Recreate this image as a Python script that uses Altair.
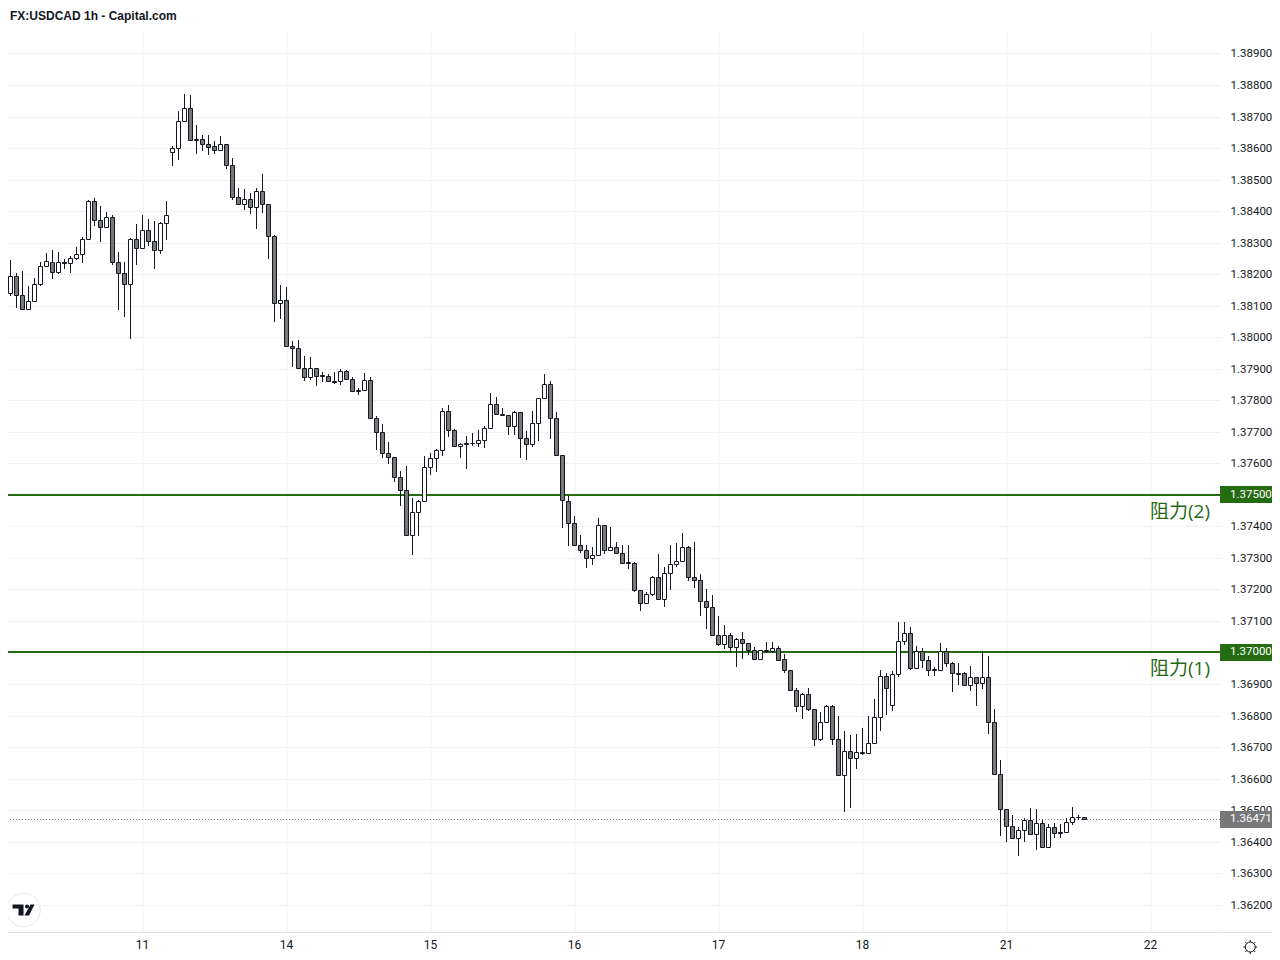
import altair as alt
import pandas as pd

TITLE = "FX:USDCAD 1h - Capital.com"
hour_index = list(range(-24, 158))

opens = [
    1.38171,1.38171,1.38140,1.38193,1.38133,1.38089,1.38114,1.38168,1.38225,1.38240,1.38206,1.38238,1.38235,1.38251,1.38263,1.38311,1.38432,1.38371,1.38349,1.38381,1.38238,1.38203,1.38168,1.38311,1.38282,1.38340,1.38305,1.38276,1.38362,
    1.38589,1.38600,1.38687,1.38728,1.38624,1.38630,1.38614,1.38605,1.38595,1.38614,1.38547,1.38446,1.38424,1.38440,1.38414,1.38465,1.38421,1.38322,1.38109,1.38119,1.37973,1.37967,1.37903,1.37875,1.37903,1.37879,1.37878,1.37862,
    1.37862,1.37892,1.37867,1.37832,1.37832,1.37864,1.37743,1.37699,1.37632,1.37620,1.37556,1.37515,1.37372,1.37445,1.37480,1.37588,1.37616,1.37642,1.37766,1.37705,1.37654,1.37664,1.37663,1.37664,1.37673,1.37712,1.37788,1.37756,1.37753,1.37718,1.37762,1.37680,1.37661,1.37727,1.37807,1.37851,1.37743,1.37626,
    1.37481,1.37412,1.37342,1.37326,1.37300,1.37310,1.37405,1.37326,1.37335,1.37316,1.37286,1.37285,1.37199,1.37158,1.37186,1.37240,1.37170,1.37253,1.37281,1.37291,1.37335,1.37240,1.37231,1.37164,1.37145,1.37056,1.37028,1.37056,1.37018,1.37043,1.37031,1.37008,1.36980,1.37008,1.37005,1.37015,
    1.36978,1.36943,1.36880,1.36829,1.36867,1.36820,1.36727,1.36778,1.36829,1.36724,1.36610,1.36686,1.36664,1.36683,1.36680,1.36712,1.36794,1.36924,1.36835,1.36931,1.37035,1.37061,1.36950,1.37004,1.36975,1.36948,1.36946,1.37004,1.36966,1.36935,1.36934,1.36896,1.36921,1.36902,1.36921,1.36781,
    1.36616,1.36502,1.36451,1.36413,1.36438,1.36470,1.36425,1.36460,1.36384,1.36448,1.36432,1.36432,1.36463,1.36478,1.36479,
]
highs = [
    1.38182,1.38187,1.38245,1.38203,1.38211,1.38161,1.38187,1.38239,1.38268,1.38277,1.38271,1.38249,1.38258,1.38287,1.38318,1.38435,1.38441,1.38417,1.38397,1.38387,1.38271,1.38239,1.38314,1.38360,1.38388,1.38376,1.38369,1.38366,1.38433,
    1.38605,1.38717,1.38773,1.38768,1.38674,1.38643,1.38643,1.38622,1.38637,1.38614,1.38570,1.38474,1.38471,1.38457,1.38474,1.38519,1.38424,1.38325,1.38167,1.38160,1.37989,1.37992,1.37941,1.37938,1.37903,1.37890,1.37884,1.37890,
    1.37900,1.37897,1.37873,1.37840,1.37886,1.37873,1.37750,1.37724,1.37667,1.37620,1.37575,1.37591,1.37489,1.37484,1.37623,1.37632,1.37645,1.37776,1.37785,1.37708,1.37664,1.37686,1.37696,1.37705,1.37718,1.37823,1.37810,1.37775,1.37753,1.37766,1.37762,1.37702,1.37766,1.37807,1.37883,1.37861,1.37762,1.37626,
    1.37495,1.37434,1.37373,1.37342,1.37335,1.37427,1.37405,1.37397,1.37352,1.37342,1.37342,1.37288,1.37199,1.37193,1.37244,1.37313,1.37272,1.37342,1.37348,1.37380,1.37339,1.37351,1.37250,1.37202,1.37183,1.37116,1.37088,1.37062,1.37047,1.37066,1.37031,1.37018,1.37008,1.37034,1.37034,1.37021,
    1.36994,1.36943,1.36886,1.36870,1.36886,1.36820,1.36810,1.36835,1.36832,1.36800,1.36750,1.36737,1.36743,1.36762,1.36797,1.36854,1.36946,1.36934,1.36940,1.37096,1.37096,1.37080,1.37019,1.37013,1.36988,1.36953,1.37029,1.37013,1.36969,1.36966,1.36937,1.36956,1.36921,1.37004,1.36988,1.36820,
    1.36660,1.36502,1.36483,1.36448,1.36476,1.36508,1.36505,1.36470,1.36457,1.36460,1.36457,1.36476,1.36511,1.36486,1.36479,
]
lows = [
    1.38081,1.38131,1.38131,1.38093,1.38087,1.38089,1.38114,1.38164,1.38225,1.38185,1.38201,1.38217,1.38204,1.38245,1.38236,1.38307,1.38353,1.38303,1.38349,1.38230,1.38085,1.38065,1.37993,1.38230,1.38282,1.38288,1.38217,1.38264,1.38309,
    1.38543,1.38562,1.38687,1.38624,1.38581,1.38591,1.38578,1.38581,1.38591,1.38534,1.38435,1.38424,1.38404,1.38391,1.38343,1.38393,1.38247,1.38048,1.38058,1.37969,1.37905,1.37899,1.37860,1.37864,1.37845,1.37858,1.37862,1.37851,
    1.37849,1.37863,1.37825,1.37818,1.37829,1.37743,1.37643,1.37617,1.37598,1.37541,1.37465,1.37372,1.37310,1.37368,1.37476,1.37563,1.37571,1.37622,1.37682,1.37651,1.37618,1.37581,1.37655,1.37653,1.37649,1.37708,1.37754,1.37749,1.37691,1.37691,1.37618,1.37612,1.37653,1.37671,1.37807,1.37677,1.37626,1.37396,
    1.37338,1.37342,1.37314,1.37268,1.37277,1.37310,1.37312,1.37326,1.37313,1.37285,1.37264,1.37193,1.37131,1.37153,1.37180,1.37170,1.37144,1.37198,1.37271,1.37287,1.37226,1.37204,1.37115,1.37074,1.37056,1.37020,1.37012,1.36998,1.36953,1.36979,1.36992,1.36980,1.36980,1.36999,1.36999,1.36977,
    1.36934,1.36880,1.36812,1.36790,1.36813,1.36704,1.36720,1.36778,1.36707,1.36607,1.36495,1.36507,1.36631,1.36674,1.36680,1.36712,1.36752,1.36803,1.36815,1.36923,1.37025,1.36943,1.36950,1.36952,1.36926,1.36926,1.36943,1.36953,1.36876,1.36898,1.36896,1.36877,1.36831,1.36885,1.36742,1.36613,
    1.36418,1.36399,1.36413,1.36355,1.36399,1.36425,1.36374,1.36384,1.36384,1.36412,1.36412,1.36432,1.36454,1.36470,1.36471,
]
closes = [
    1.38140,1.38140,1.38193,1.38133,1.38089,1.38114,1.38168,1.38225,1.38241,1.38206,1.38238,1.38235,1.38251,1.38263,1.38311,1.38432,1.38371,1.38349,1.38381,1.38238,1.38203,1.38168,1.38311,1.38282,1.38340,1.38305,1.38276,1.38362,1.38387,
    1.38600,1.38687,1.38728,1.38624,1.38630,1.38613,1.38604,1.38595,1.38614,1.38547,1.38446,1.38424,1.38440,1.38414,1.38465,1.38421,1.38322,1.38109,1.38119,1.37973,1.37967,1.37903,1.37875,1.37903,1.37878,1.37877,1.37862,1.37859,
    1.37894,1.37866,1.37829,1.37829,1.37864,1.37743,1.37699,1.37632,1.37620,1.37556,1.37515,1.37372,1.37445,1.37480,1.37588,1.37616,1.37642,1.37766,1.37705,1.37654,1.37661,1.37661,1.37664,1.37673,1.37712,1.37788,1.37756,1.37753,1.37718,1.37762,1.37680,1.37661,1.37727,1.37807,1.37851,1.37743,1.37626,1.37483,
    1.37412,1.37342,1.37326,1.37300,1.37310,1.37405,1.37326,1.37335,1.37316,1.37285,1.37284,1.37199,1.37158,1.37186,1.37240,1.37170,1.37253,1.37281,1.37291,1.37335,1.37240,1.37231,1.37164,1.37145,1.37056,1.37028,1.37056,1.37018,1.37043,1.37031,1.37008,1.36980,1.37008,1.37005,1.37015,1.36977,
    1.36943,1.36880,1.36829,1.36867,1.36820,1.36727,1.36778,1.36829,1.36724,1.36610,1.36686,1.36664,1.36683,1.36680,1.36712,1.36794,1.36924,1.36886,1.36931,1.37035,1.37061,1.36950,1.37004,1.36975,1.36946,1.36946,1.37004,1.36966,1.36934,1.36933,1.36896,1.36921,1.36902,1.36921,1.36781,1.36616,
    1.36502,1.36451,1.36413,1.36438,1.36470,1.36425,1.36460,1.36384,1.36448,1.36429,1.36429,1.36463,1.36479,1.36479,1.36471,
]

price_ticks = [round(1.362 + 0.001 * k, 3) for k in range(28)]
day_positions = [-24, 0, 24, 48, 72, 96, 120, 144, 168]
day_labels = ["10", "11", "14", "15", "16", "17", "18", "21", "22"]

levels = [1.375, 1.370]
level_tags = ["1.37500", "1.37000"]
level_names = ["阻力(2)", "阻力(1)"]
last_price = 1.36471
last_tag = "1.36471"

GREEN = "#256b12"
GREY = "#787878"
INK = "#131722"
GRID = "#f0f0f2"
EDGE = "#e0e3eb"
AXIS_FONT = "Roboto"
AXIS_SIZE = 11.5

Y_MIN, Y_MAX = 1.361134, 1.389713
X_MIN, X_MAX = -22.4167, 179.5833
X_TAG_END = 188.25
X_TEXT = 181.25
X_NAME = 177.92
TAG_HALF = 0.00027

x_scale = alt.Scale(domain=[X_MIN, X_MAX], nice=False, zero=False, padding=0)
y_scale = alt.Scale(domain=[Y_MIN, Y_MAX], nice=False, zero=False, round=True, padding=0)

label_expr = "{" + ",".join(f"'{p}':'{t}'" for p, t in zip(day_positions, day_labels)) + "}[datum.value]"

x_axis = alt.Axis(values=day_positions, labelExpr=label_expr, title=None, grid=True, gridColor=GRID,
                  ticks=False, domain=False, labelPadding=8, labelFont=AXIS_FONT, labelFontSize=12,
                  labelColor=INK, translate=0, labelFlush=False, labelOverlap=False, labelBound=False,
                  tickCount=40)
y_axis = alt.Axis(orient="right", values=price_ticks, format=".5f", title=None, grid=True, gridColor=GRID,
                  ticks=False, domain=False, labelPadding=10, labelFont=AXIS_FONT, labelFontSize=AXIS_SIZE,
                  labelColor=INK, labelOverlap=False, labelFlush=False, labelBound=False, tickCount=60)

candles = pd.DataFrame({"i": hour_index, "open": opens, "high": highs, "low": lows, "close": closes})
level_df = pd.DataFrame({
    "price": levels, "top": [p + TAG_HALF for p in levels], "bottom": [p - TAG_HALF for p in levels],
    "tag": level_tags, "name": level_names,
    "x0": [X_MAX] * 2, "x1": [X_TAG_END] * 2, "xt": [X_TEXT] * 2, "xn": [X_NAME] * 2,
})
last_df = pd.DataFrame({
    "price": [last_price], "top": [last_price + TAG_HALF], "bottom": [last_price - TAG_HALF],
    "tag": [last_tag], "x0": [X_MAX], "x1": [X_TAG_END], "xt": [X_TEXT],
})

X = lambda f: alt.X(f, type="quantitative", scale=x_scale, title=None)
Y = lambda f: alt.Y(f, type="quantitative", scale=y_scale, title=None)

base = alt.Chart(candles).mark_rule(opacity=0).encode(
    x=alt.X("i:Q", scale=x_scale, axis=x_axis),
    y=alt.Y("low:Q", scale=y_scale, axis=y_axis),
)
axis_line = alt.Chart(pd.DataFrame({"a": [X_MIN, X_MAX + 0.1667], "b": [X_MAX, X_TAG_END], "y": [Y_MIN, Y_MIN]})).mark_rule(
    color=EDGE, strokeWidth=1, yOffset=0.5).encode(x=X("a"), x2="b", y=Y("y"))
level_rules = alt.Chart(level_df).mark_rule(color=GREEN, strokeWidth=2).encode(y=Y("price"))
last_rule = alt.Chart(last_df).mark_rule(color=GREY, strokeWidth=1, strokeDash=[1, 2], yOffset=0.5).encode(y=Y("price"))
wicks = alt.Chart(candles).mark_rule(color=INK, strokeWidth=1, clip=True).encode(x=X("i"), y=Y("high"), y2="low")
bodies = alt.Chart(candles).mark_bar(size=4, stroke=INK, strokeWidth=1, clip=True, yOffset=0.5, y2Offset=0.5).encode(
    x=X("i"), y=Y("open"), y2="close",
    fill=alt.condition("datum.close >= datum.open", alt.value("#ffffff"), alt.value(GREY)),
)
level_boxes = alt.Chart(level_df).mark_bar(color=GREEN).encode(
    x=X("x0"), x2="x1", y=Y("top"), y2="bottom")
level_text = alt.Chart(level_df).mark_text(align="left", baseline="middle", color="#ffffff", font=AXIS_FONT, fontSize=AXIS_SIZE, dx=0).encode(
    x=X("xt"), y=Y("price"), text="tag:N")
level_names_text = alt.Chart(level_df).mark_text(align="right", baseline="middle", dy=17, color=GREEN,
                                                 font="Open Sans, Noto Sans CJK SC", fontSize=19).encode(
    x=X("xn"), y=Y("price"), text="name:N")
last_box = alt.Chart(last_df).mark_bar(color=GREY).encode(
    x=X("x0"), x2="x1", y=Y("top"), y2="bottom")
last_text = alt.Chart(last_df).mark_text(align="left", baseline="middle", color="#ffffff", font=AXIS_FONT, fontSize=AXIS_SIZE).encode(
    x=X("xt"), y=Y("price"), text="tag:N")

logo_df = pd.DataFrame({"x": [-19.83], "y": [1.36183]})
logo_ring = alt.Chart(logo_df).mark_point(shape="circle", size=1122, filled=True, fill="#ffffff", stroke="#e6e6e8",
                                          strokeWidth=1, opacity=1).encode(x=X("x"), y=Y("y"))
logo_mark = alt.Chart(logo_df).mark_point(
    shape="M-11,-5.5 H0 V5.5 H-5 V-1.5 H-11 Z M1.5,-3.5 a2,2 0 1,0 4,0 a2,2 0 1,0 -4,0 Z M7,-5.5 H11 L5.5,5.5 H1 Z",
    size=4, filled=True, fill=INK, strokeWidth=0, opacity=1).encode(x=X("x"), y=Y("y"))
gear_df = pd.DataFrame({"x": [184.63], "y": [1.36066]})
gear = alt.Chart(gear_df).mark_point(
    shape="M-5,0 a5,5 0 1,0 10,0 a5,5 0 1,0 -10,0 M0,-5 V-7 M0,5 V7 M-5,0 H-7 M5,0 H7 M-3.5,-3.5 L-5,-5 M3.5,-3.5 L5,-5 M-3.5,3.5 L-5,5 M3.5,3.5 L5,5",
    size=4, filled=False, stroke=INK, strokeWidth=1, opacity=1).encode(x=X("x"), y=Y("y"))

chart = alt.layer(
    base, level_rules, last_rule, wicks, bodies, axis_line,
    level_boxes, last_box, level_text, last_text, level_names_text,
    logo_ring, logo_mark, gear,
).properties(
    width=1212, height=901,
    padding={"left": 0, "top": 23, "right": 52, "bottom": 28},
    autosize=alt.AutoSizeParams(type="none"),
    title=alt.TitleParams(TITLE, anchor="start", frame="group", offset=2, dx=2, dy=3, baseline="alphabetic",
                          font="Liberation Sans", fontSize=12, fontWeight="bold", color=INK),
    background="#ffffff",
).configure_view(strokeWidth=0)

chart.save("out.html", embed_options={"renderer": "svg", "actions": False})
